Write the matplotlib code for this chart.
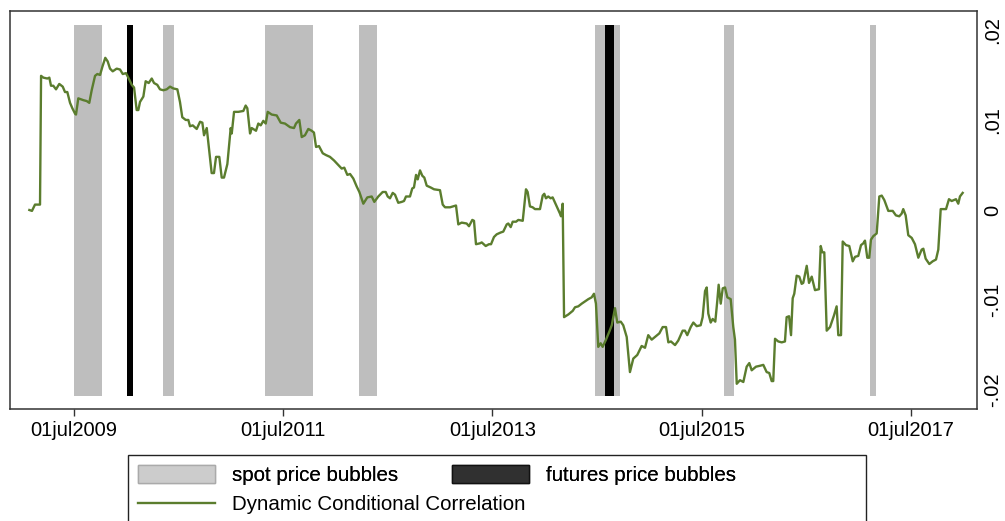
import matplotlib
matplotlib.use("Agg")
import matplotlib.pyplot as plt
from matplotlib.patches import Patch, Rectangle
from matplotlib.lines import Line2D

plt.rcParams['font.family'] = ['Liberation Sans', 'DejaVu Sans']

# ======== Dados ========
# tempo em anos decimais, valor da correlação condicional dinâmica
dcc_time = [
    2009.073, 2009.098, 2009.127, 2009.175, 2009.185, 2009.207, 2009.245, 2009.264, 2009.280, 2009.302,
    2009.328, 2009.359, 2009.392, 2009.414, 2009.436, 2009.462, 2009.484, 2009.510, 2009.519, 2009.541,
    2009.589, 2009.621, 2009.646, 2009.669, 2009.701, 2009.723, 2009.749, 2009.771, 2009.799, 2009.822,
    2009.844, 2009.870, 2009.908, 2009.940, 2009.966, 2009.997, 2010.019, 2010.052, 2010.074, 2010.099,
    2010.115, 2010.131, 2010.163, 2010.185, 2010.214, 2010.243, 2010.265, 2010.296, 2010.322, 2010.354,
    2010.386, 2010.418, 2010.449, 2010.488, 2010.513, 2010.535, 2010.568, 2010.593, 2010.609, 2010.635,
    2010.673, 2010.705, 2010.727, 2010.743, 2010.769, 2010.816, 2010.838, 2010.858, 2010.889, 2010.912,
    2010.934, 2010.966, 2010.998, 2011.008, 2011.030, 2011.071, 2011.119, 2011.141, 2011.157, 2011.183,
    2011.199, 2011.240, 2011.262, 2011.285, 2011.310, 2011.333, 2011.352, 2011.390, 2011.438, 2011.476,
    2011.517, 2011.565, 2011.603, 2011.622, 2011.654, 2011.677, 2011.708, 2011.740, 2011.772, 2011.794,
    2011.814, 2011.842, 2011.878, 2011.909, 2011.947, 2011.986, 2012.027, 2012.059, 2012.084, 2012.113,
    2012.139, 2012.170, 2012.203, 2012.228, 2012.266, 2012.304, 2012.346, 2012.371, 2012.409, 2012.451,
    2012.480, 2012.499, 2012.521, 2012.547, 2012.569, 2012.600, 2012.633, 2012.655, 2012.674, 2012.712,
    2012.734, 2012.750, 2012.770, 2012.786, 2012.808, 2012.830, 2012.849, 2012.872, 2012.910, 2012.942,
    2012.999, 2013.025, 2013.047, 2013.095, 2013.152, 2013.174, 2013.206, 2013.254, 2013.276, 2013.308,
    2013.324, 2013.343, 2013.381, 2013.398, 2013.436, 2013.467, 2013.487, 2013.515, 2013.541, 2013.579,
    2013.604, 2013.637, 2013.652, 2013.675, 2013.694, 2013.726, 2013.748, 2013.790, 2013.821, 2013.837,
    2013.859, 2013.885, 2013.907, 2013.955, 2013.981, 2013.996, 2014.012, 2014.034, 2014.057, 2014.076,
    2014.115, 2014.146, 2014.156, 2014.172, 2014.185, 2014.226, 2014.268, 2014.290, 2014.321, 2014.354,
    2014.379, 2014.417, 2014.449, 2014.471, 2014.490, 2014.512, 2014.535, 2014.554, 2014.586, 2014.618,
    2014.641, 2014.672, 2014.694, 2014.727, 2014.751, 2014.784, 2014.815, 2014.847, 2014.885, 2014.927,
    2014.959, 2014.990, 2015.023, 2015.064, 2015.096, 2015.128, 2015.160, 2015.182, 2015.207, 2015.246,
    2015.277, 2015.319, 2015.341, 2015.363, 2015.396, 2015.421, 2015.453, 2015.491, 2015.510, 2015.533,
    2015.549, 2015.564, 2015.587, 2015.606, 2015.631, 2015.650, 2015.663, 2015.683, 2015.702, 2015.724,
    2015.746, 2015.778, 2015.803, 2015.819, 2015.836, 2015.867, 2015.899, 2015.931, 2015.956, 2015.979,
    2016.020, 2016.058, 2016.090, 2016.122, 2016.147, 2016.170, 2016.185, 2016.202, 2016.233, 2016.266,
    2016.297, 2016.313, 2016.336, 2016.355, 2016.371, 2016.386, 2016.409, 2016.434, 2016.457, 2016.472,
    2016.505, 2016.527, 2016.553, 2016.584, 2016.622, 2016.639, 2016.654, 2016.673, 2016.696, 2016.728,
    2016.766, 2016.791, 2016.807, 2016.833, 2016.849, 2016.880, 2016.912, 2016.945, 2016.967, 2016.998,
    2017.024, 2017.046, 2017.062, 2017.084, 2017.103, 2017.119, 2017.142, 2017.174, 2017.199, 2017.222,
    2017.247, 2017.285, 2017.327, 2017.358, 2017.390, 2017.413, 2017.428, 2017.451, 2017.476, 2017.509,
    2017.540, 2017.572, 2017.604, 2017.620, 2017.642, 2017.677, 2017.709, 2017.741, 2017.763, 2017.786,
    2017.837, 2017.865, 2017.891, 2017.932, 2017.954, 2017.970, 2017.996,
]
dcc_value = [
    0.0000, -0.0001, 0.0006, 0.0006, 0.0149, 0.0147, 0.0146, 0.0147, 0.0138, 0.0138,
    0.0134, 0.0140, 0.0137, 0.0131, 0.0131, 0.0119, 0.0113, 0.0107, 0.0106, 0.0124,
    0.0122, 0.0121, 0.0119, 0.0133, 0.0149, 0.0151, 0.0150, 0.0159, 0.0169, 0.0165,
    0.0157, 0.0154, 0.0157, 0.0156, 0.0151, 0.0152, 0.0147, 0.0139, 0.0136, 0.0111,
    0.0111, 0.0120, 0.0126, 0.0143, 0.0141, 0.0146, 0.0141, 0.0139, 0.0134, 0.0133,
    0.0134, 0.0137, 0.0135, 0.0134, 0.0120, 0.0103, 0.0100, 0.0100, 0.0093, 0.0094,
    0.0090, 0.0098, 0.0097, 0.0083, 0.0091, 0.0041, 0.0041, 0.0059, 0.0059, 0.0036,
    0.0036, 0.0051, 0.0091, 0.0085, 0.0109, 0.0109, 0.0110, 0.0116, 0.0113, 0.0085,
    0.0091, 0.0088, 0.0096, 0.0094, 0.0099, 0.0096, 0.0109, 0.0106, 0.0105, 0.0097,
    0.0096, 0.0092, 0.0091, 0.0096, 0.0100, 0.0081, 0.0083, 0.0090, 0.0088, 0.0086,
    0.0070, 0.0071, 0.0063, 0.0061, 0.0059, 0.0055, 0.0050, 0.0046, 0.0047, 0.0039,
    0.0040, 0.0035, 0.0026, 0.0020, 0.0007, 0.0014, 0.0015, 0.0009, 0.0015, 0.0020,
    0.0020, 0.0015, 0.0013, 0.0019, 0.0017, 0.0008, 0.0009, 0.0010, 0.0015, 0.0015,
    0.0024, 0.0025, 0.0039, 0.0034, 0.0044, 0.0038, 0.0036, 0.0027, 0.0025, 0.0023,
    0.0022, 0.0006, 0.0003, 0.0003, 0.0005, -0.0016, -0.0014, -0.0015, -0.0018, -0.0011,
    -0.0012, -0.0038, -0.0037, -0.0036, -0.0040, -0.0038, -0.0038, -0.0030, -0.0027, -0.0025,
    -0.0024, -0.0016, -0.0015, -0.0019, -0.0013, -0.0013, -0.0011, -0.0012, 0.0023, 0.0020,
    0.0004, 0.0003, 0.0001, 0.0001, 0.0016, 0.0018, 0.0013, 0.0015, 0.0013, 0.0014,
    0.0004, -0.0004, -0.0007, 0.0007, -0.0119, -0.0116, -0.0112, -0.0108, -0.0107, -0.0104,
    -0.0102, -0.0099, -0.0097, -0.0093, -0.0104, -0.0152, -0.0148, -0.0152, -0.0144, -0.0135,
    -0.0128, -0.0109, -0.0125, -0.0124, -0.0128, -0.0141, -0.0180, -0.0165, -0.0161, -0.0151,
    -0.0153, -0.0139, -0.0144, -0.0140, -0.0137, -0.0130, -0.0130, -0.0147, -0.0146, -0.0150,
    -0.0145, -0.0134, -0.0134, -0.0139, -0.0130, -0.0125, -0.0129, -0.0128, -0.0119, -0.0090,
    -0.0086, -0.0115, -0.0125, -0.0121, -0.0124, -0.0101, -0.0083, -0.0104, -0.0087, -0.0086,
    -0.0097, -0.0099, -0.0130, -0.0144, -0.0193, -0.0189, -0.0191, -0.0174, -0.0170, -0.0178,
    -0.0174, -0.0173, -0.0172, -0.0180, -0.0181, -0.0190, -0.0190, -0.0143, -0.0146, -0.0147,
    -0.0146, -0.0119, -0.0118, -0.0139, -0.0098, -0.0093, -0.0073, -0.0074, -0.0082, -0.0081,
    -0.0062, -0.0081, -0.0074, -0.0089, -0.0088, -0.0040, -0.0047, -0.0047, -0.0134, -0.0130,
    -0.0117, -0.0107, -0.0139, -0.0139, -0.0035, -0.0039, -0.0040, -0.0057, -0.0052, -0.0051,
    -0.0039, -0.0037, -0.0034, -0.0053, -0.0053, -0.0033, -0.0029, -0.0026, 0.0015, 0.0016,
    0.0011, -0.0001, -0.0001, -0.0006, -0.0007, -0.0004, 0.0001, -0.0006, -0.0028, -0.0031,
    -0.0038, -0.0053, -0.0044, -0.0043, -0.0054, -0.0060, -0.0057, -0.0055, -0.0044, 0.0001,
    0.0001, 0.0012, 0.0010, 0.0012, 0.0007, 0.0015, 0.0019,
]

# periodos de bolha (inicio, fim) em anos decimais
spot_start = [2009.503, 2010.348, 2011.326, 2012.228, 2014.484, 2015.714, 2017.110]
spot_end = [2009.771, 2010.459, 2011.788, 2012.400, 2014.720, 2015.807, 2017.167]
fut_start = [2010.007, 2014.579]
fut_end = [2010.061, 2014.660]
bubble_low, bubble_high = -0.0207, 0.0206

xtick_pos = [2009.5, 2011.5, 2013.5, 2015.5, 2017.5]
xtick_labels = ["01jul2009", "01jul2011", "01jul2013", "01jul2015", "01jul2017"]
ytick_pos = [-0.02, -0.01, 0.0, 0.01, 0.02]
ytick_labels = ["-.02", "-.01", "0", ".01", ".02"]

GREEN = "#5b7d2e"
FS = 14.5
FS_LEG = 14.8

fig = plt.figure(figsize=(10.05, 5.21), dpi=100)
ax = fig.add_axes([10 / 1005, 1 - 409 / 521, 967 / 1005, 398 / 521])

for s, e in zip(spot_start, spot_end):
    ax.bar(s, bubble_high - bubble_low, width=e - s, bottom=bubble_low, align='edge',
           color='#bebebe', linewidth=0)
for s, e in zip(fut_start, fut_end):
    ax.bar(s, bubble_high - bubble_low, width=e - s, bottom=bubble_low, align='edge',
           color='#000000', linewidth=0)

ax.plot(dcc_time, dcc_value, color=GREEN, lw=1.7)

ax.set_xlim(2008.888, 2018.133)
ax.set_ylim(-0.0221, 0.0221)
ax.set_xticks(xtick_pos)
ax.set_xticklabels(xtick_labels, fontsize=FS)
ax.yaxis.tick_right()
ax.set_yticks(ytick_pos)
ax.set_yticklabels(ytick_labels, fontsize=FS, rotation=90, va='center')
ax.tick_params(axis='x', length=5, width=1, pad=4, color='#333333')
ax.tick_params(axis='y', length=0, pad=4.5)
for sp in ax.spines.values():
    sp.set_color('#333333')
    sp.set_linewidth(1.1)

# ======== Legenda ========
fig.add_artist(Rectangle((128 / 1005, -0.05), 738 / 1005, 0.05 + 1 - 455 / 521,
                         transform=fig.transFigure, fill=False, edgecolor='#222222', lw=1))
row1 = [Patch(facecolor='#cccccc', edgecolor='#aaaaaa', label='spot price bubbles'),
        Patch(facecolor='#303030', edgecolor='#111111', label='futures price bubbles')]
leg1 = fig.legend(handles=row1, ncol=2, loc='center left', frameon=False,
                  bbox_to_anchor=(138 / 1005, 1 - 475 / 521), borderpad=0, borderaxespad=0,
                  fontsize=FS_LEG, handlelength=3.75, handleheight=1.0, handletextpad=0.8,
                  columnspacing=2.65)
row2 = [Line2D([], [], color=GREEN, lw=1.7, label='Dynamic Conditional Correlation')]
leg2 = fig.legend(handles=row2, loc='center left', frameon=False,
                  bbox_to_anchor=(138 / 1005, 1 - 505 / 521), borderpad=0, borderaxespad=0,
                  fontsize=FS_LEG, handlelength=3.75, handletextpad=0.8)
fig.add_artist(leg1)

fig.savefig("out.png", dpi=100)
